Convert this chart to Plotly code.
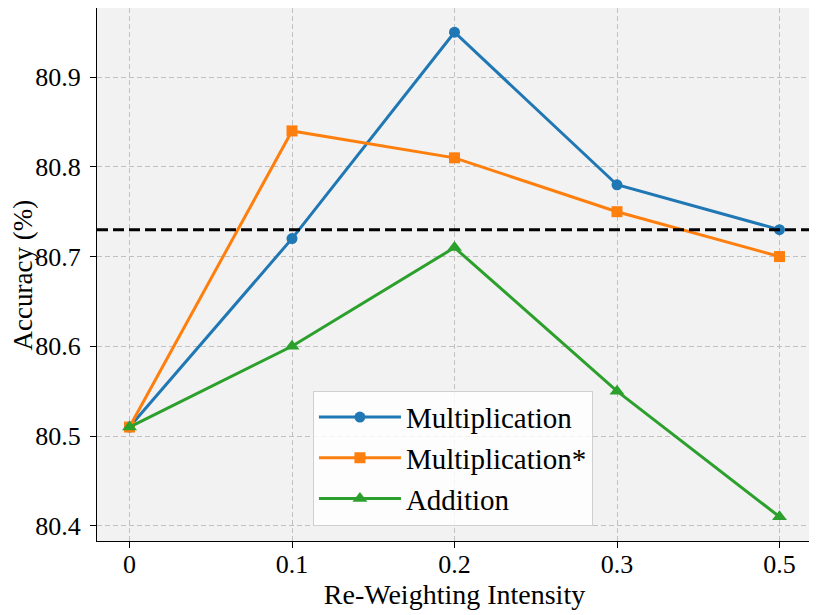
import plotly.graph_objects as go

# re-weighting intensities (shown as evenly spaced categories)
intensity = ["0", "0.1", "0.2", "0.3", "0.5"]

# accuracy (%) per variant
multiplication = [80.51, 80.72, 80.95, 80.78, 80.73]
multiplication_star = [80.51, 80.84, 80.81, 80.75, 80.70]
addition = [80.51, 80.60, 80.71, 80.55, 80.41]

# baseline accuracy (dashed line)
baseline = 80.73

series = [
    ("Multiplication", multiplication, "#1f77b4", "circle", 11),
    ("Multiplication*", multiplication_star, "#ff7f0e", "square", 11),
    ("Addition", addition, "#2ca02c", "triangle-up", 13),
]

FONT = "Liberation Serif, Times New Roman, serif"

fig = go.Figure()
for name, vals, color, symbol, msize in series:
    fig.add_trace(
        go.Scatter(
            x=intensity,
            y=vals,
            name=name,
            mode="lines+markers",
            line=dict(color=color, width=3),
            marker=dict(symbol=symbol, size=msize, color=color),
        )
    )

fig.add_hline(y=baseline, line=dict(color="black", width=3, dash="11px,5px"))

axis_common = dict(
    automargin=False,
    showline=True,
    linecolor="black",
    linewidth=1.3,
    mirror=True,
    ticks="outside",
    ticklen=6,
    tickcolor="black",
    showgrid=True,
    gridcolor="#c0c0c0",
    griddash="5px,3px",
    gridwidth=1,
    zeroline=False,
    tickfont=dict(size=26, color="black"),
    title_font=dict(size=28, color="black"),
)

fig.update_xaxes(
    type="category",
    range=[-0.2, 4.2],
    title_text="Re-Weighting Intensity",
    title_standoff=2,
    ticklabelstandoff=-6,
    **axis_common,
)
fig.update_yaxes(
    range=[80.383, 80.977],
    tickvals=[80.4, 80.5, 80.6, 80.7, 80.8, 80.9],
    ticktext=["80.4", "80.5", "80.6", "80.7", "80.8", "80.9"],
    ticklabelstandoff=4,
    **axis_common,
)

# y title as an annotation so it can sit close to the left edge
fig.add_annotation(
    text="Accuracy (%)",
    textangle=-90,
    xref="paper",
    yref="paper",
    x=-0.1035,
    y=0.5,
    xanchor="center",
    yanchor="middle",
    showarrow=False,
    borderpad=0,
    font=dict(size=27, color="black", family=FONT),
)

# the page has an 8px body margin, so the figure is sized to fit inside it
fig.update_layout(
    width=809,
    height=607,
    margin=dict(l=89, r=5, t=0, b=74),
    plot_bgcolor="#f2f2f2",
    paper_bgcolor="white",
    font=dict(family=FONT, color="black"),
    showlegend=True,
    legend=dict(
        x=0.302,
        y=0.282,
        xanchor="left",
        yanchor="top",
        bgcolor="rgba(255,255,255,0.8)",
        bordercolor="#d0d0d0",
        borderwidth=1,
        font=dict(size=29, color="black"),
        itemwidth=82,
        tracegroupgap=0,
    ),
)

fig.write_html("out.html")
